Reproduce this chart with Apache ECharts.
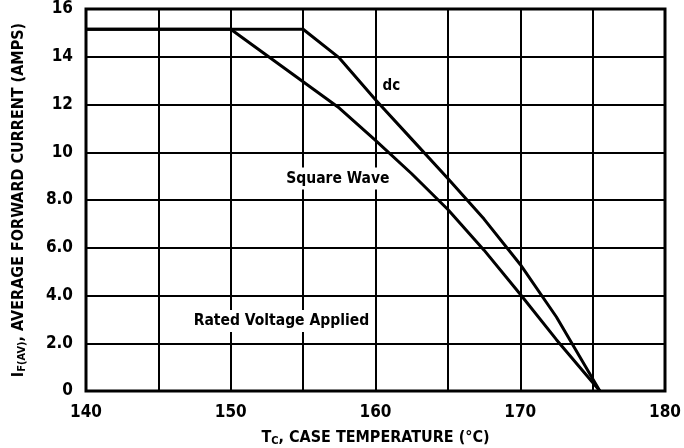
<!DOCTYPE html>
<html>
<head>
<meta charset="utf-8">
<title>Forward current derating</title>
<script src="https://cdn.jsdelivr.net/npm/echarts@6/dist/echarts.min.js"></script>
<style>
  html, body { margin: 0; padding: 0; background: #fff; }
  #chart { width: 684px; height: 448px; }
</style>
</head>
<body>
<div id="chart"></div>
<script>
// case temperature (°C) and average forward current (A)
var dcTemp = [140, 155, 157.5, 160, 162.5, 165, 167.5, 170, 172.5, 175.5];
var dcAmps = [15.15, 15.15, 13.95, 12.2, 10.55, 8.9, 7.2, 5.3, 3.1, 0];
var sqTemp = [140, 150, 152.5, 155, 157.5, 160, 162.5, 165, 167.5, 170, 172.5, 175.5];
var sqAmps = [15.15, 15.15, 14.05, 12.95, 11.85, 10.5, 9.1, 7.6, 5.9, 4.05, 2.15, 0];
var xTicks = [140, 150, 160, 170, 180];
var yTicks = ['0', '2.0', '4.0', '6.0', '8.0', '10', '12', '14', '16'];

var font = '"DejaVu Sans Condensed", "Liberation Sans Narrow", sans-serif';

function pairs(xs, ys) {
    return xs.map(function (x, i) { return [x, ys[i]]; });
}

var chart = echarts.init(document.getElementById('chart'));
chart.setOption({
    animation: false,
    grid: {
        left: 86, right: 19, top: 9, bottom: 57,
        outerBoundsMode: 'none', containLabel: false,
        show: true, borderColor: '#000', borderWidth: 3
    },
    xAxis: {
        type: 'value', min: 140, max: 180, interval: 5,
        axisLine: { show: false },
        axisTick: { show: false },
        splitLine: { show: true, lineStyle: { color: '#000', width: 2 } },
        axisLabel: {
            margin: 13, color: '#000', fontFamily: font, fontWeight: 'bold', fontSize: 17,
            formatter: function (v) { return xTicks.indexOf(v) >= 0 ? String(v) : ''; }
        },
        name: '{t|T}{s|C}{t|, CASE TEMPERATURE (°C)}',
        nameLocation: 'middle', nameGap: 37,
        nameTextStyle: {
            rich: {
                t: { fontFamily: font, fontWeight: 'bold', fontSize: 16, color: '#000' },
                s: { fontFamily: font, fontWeight: 'bold', fontSize: 11, color: '#000', verticalAlign: 'bottom', padding: [8, 0, 0, 0] }
            }
        }
    },
    yAxis: {
        type: 'value', min: 0, max: 16, interval: 2,
        axisLine: { show: false },
        axisTick: { show: false },
        splitLine: { show: true, lineStyle: { color: '#000', width: 2 } },
        axisLabel: {
            margin: 13, color: '#000', fontFamily: font, fontWeight: 'bold', fontSize: 17,
            formatter: function (v) { return yTicks[Math.round(v / 2)]; }
        },
        name: '{t|I}{s|F(AV)}{t|, AVERAGE FORWARD CURRENT (AMPS)}',
        nameLocation: 'middle', nameGap: 58,
        nameTextStyle: {
            rich: {
                t: { fontFamily: font, fontWeight: 'bold', fontSize: 16, color: '#000' },
                s: { fontFamily: font, fontWeight: 'bold', fontSize: 11, color: '#000', padding: [8, 0, 0, 0] }
            }
        }
    },
    series: [
        {
            name: 'dc', type: 'line', showSymbol: false,
            lineStyle: { color: '#000', width: 3 },
            data: pairs(dcTemp, dcAmps),
            markPoint: {
                symbol: 'circle', symbolSize: 0,
                label: { show: true, color: '#000', fontFamily: font, fontWeight: 'bold', fontSize: 15 },
                data: [
                    { coord: [161.1, 12.75], label: { formatter: 'dc' } }
                ]
            }
        },
        {
            name: 'Square Wave', type: 'line', showSymbol: false,
            lineStyle: { color: '#000', width: 3 },
            data: pairs(sqTemp, sqAmps),
            markPoint: {
                symbol: 'circle', symbolSize: 0,
                label: {
                    show: true, color: '#000', fontFamily: font, fontWeight: 'bold', fontSize: 15.5,
                    backgroundColor: '#fff', padding: [3, 4]
                },
                data: [
                    { coord: [157.4, 8.9], label: { formatter: 'Square Wave' } },
                    { coord: [153.5, 2.93], label: { formatter: 'Rated Voltage Applied' } }
                ]
            }
        }
    ]
});
</script>
</body>
</html>
